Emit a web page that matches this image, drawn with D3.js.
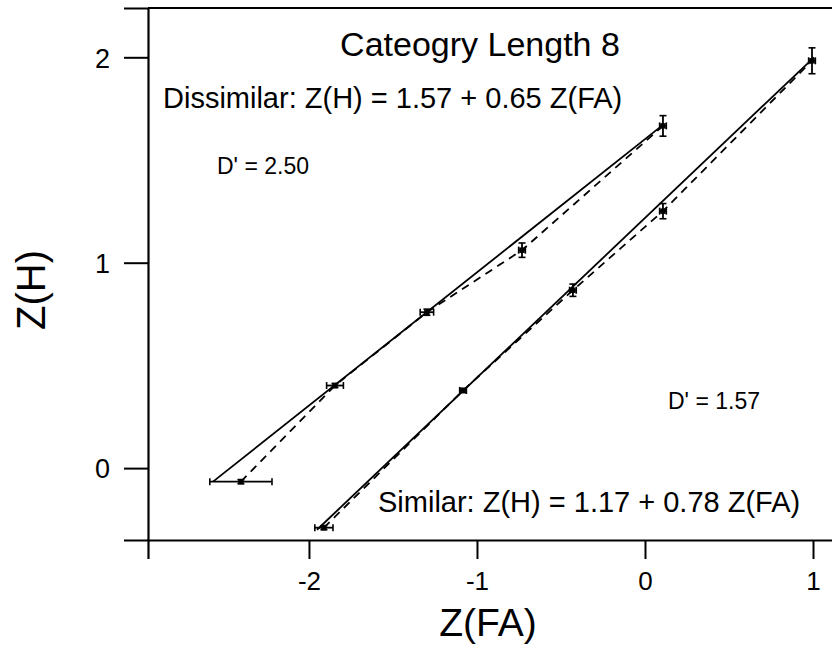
<!DOCTYPE html>
<html>
<head>
<meta charset="utf-8">
<script src="https://cdn.jsdelivr.net/npm/d3@7/dist/d3.min.js"></script>
<style>
  html, body { margin: 0; padding: 0; background: #fff; }
  svg { display: block; }
  text { font-family: "Liberation Sans", Arial, sans-serif; fill: #000; }
</style>
</head>
<body>
<svg id="chart" width="832" height="651"></svg>
<script>
// Z-transformed ROC points for the two conditions (category length 8)
const dissimilarFA  = [-2.405, -1.845, -1.298, -0.732, 0.107];
const dissimilarH   = [-0.066, 0.402, 0.759, 1.061, 1.666];
const dissimilarFAErr = [0.185, 0.05, 0.04, 0.02, 0.02];
const dissimilarHErr  = [0.01, 0.01, 0.015, 0.035, 0.05];

const similarFA  = [-1.911, -1.083, -0.429, 0.107, 0.994];
const similarH   = [-0.29, 0.378, 0.866, 1.251, 1.983];
const similarFAErr = [0.054, 0.02, 0.02, 0.02, 0.02];
const similarHErr  = [0.01, 0.01, 0.03, 0.037, 0.063];

// Straight-line ROC fits (end points along Z(FA))
const dissimilarFitFA = [-2.571, 0.107];
const dissimilarFitH  = [-0.066, 1.671];
const similarFitFA = [-1.952, 1.006];
const similarFitH  = [-0.30, 2.0];

const xTicks = [-2, -1, 0, 1];
const yTicks = [0, 1, 2];

const svg = d3.select("#chart");
const plotLeft = 148, plotRight = 833, plotTop = 8, plotBottom = 540;

const x = d3.scaleLinear().domain([-2.958, 1.119]).range([plotLeft, plotRight]);
const y = d3.scaleLinear().domain([-0.35, 2.24]).range([plotBottom, plotTop]);

// frame: top edge
svg.append("line")
  .attr("x1", plotLeft).attr("x2", plotRight).attr("y1", plotTop).attr("y2", plotTop)
  .attr("stroke", "#000").attr("stroke-width", 2);

// axes
const yAxis = d3.axisLeft(y).tickValues(yTicks).tickSize(24).tickPadding(14)
  .tickFormat(d3.format("d"));
const gy = svg.append("g").attr("transform", `translate(${plotLeft},0)`).call(yAxis);
gy.select(".domain").attr("stroke-width", 2.2);
gy.selectAll(".tick line").attr("stroke-width", 2);
gy.selectAll(".tick text").style("font-size", "27px").attr("dy", "0.36em");

const xAxis = d3.axisBottom(x).tickValues(xTicks).tickSize(19).tickPadding(12)
  .tickFormat(d => d3.format("d")(d).replace("−", "-"));
const gx = svg.append("g").attr("transform", `translate(0,${plotBottom})`).call(xAxis);
gx.select(".domain").attr("stroke-width", 2.2);
gx.selectAll(".tick line").attr("stroke-width", 2);
gx.selectAll(".tick text").style("font-size", "26px").attr("dy", "0.72em");

// axis titles
svg.append("text").attr("x", 488).attr("y", 636).attr("text-anchor", "middle")
  .style("font-size", "39px").text("Z(FA)");
svg.append("text").attr("transform", "translate(45,290) rotate(-90)")
  .attr("text-anchor", "middle").style("font-size", "40px").text("Z(H)");

const line = d3.line().x(d => x(d[0])).y(d => y(d[1]));

function drawSeries(fa, h, faErr, hErr, fitFA, fitH) {
  const g = svg.append("g");
  // fitted line
  g.append("path").datum(d3.zip(fitFA, fitH)).attr("d", line)
    .attr("fill", "none").attr("stroke", "#000").attr("stroke-width", 1.8);
  // observed points joined by dashes
  g.append("path").datum(d3.zip(fa, h)).attr("d", line)
    .attr("fill", "none").attr("stroke", "#000").attr("stroke-width", 1.8)
    .attr("stroke-dasharray", "8,6");
  const pts = fa.map((v, i) => ({ fa: v, h: h[i], ex: faErr[i], ey: hErr[i] }));
  const cap = 3.5;
  pts.forEach(p => {
    const cx = x(p.fa), cy = y(p.h);
    const x0 = x(p.fa - p.ex), x1 = x(p.fa + p.ex);
    const y0 = y(p.h - p.ey), y1 = y(p.h + p.ey);
    // horizontal error bar
    g.append("line").attr("x1", x0).attr("x2", x1).attr("y1", cy).attr("y2", cy)
      .attr("stroke", "#000").attr("stroke-width", 1.8);
    [x0, x1].forEach(xx => g.append("line").attr("x1", xx).attr("x2", xx)
      .attr("y1", cy - cap).attr("y2", cy + cap).attr("stroke", "#000").attr("stroke-width", 1.6));
    // vertical error bar
    g.append("line").attr("x1", cx).attr("x2", cx).attr("y1", y0).attr("y2", y1)
      .attr("stroke", "#000").attr("stroke-width", 1.8);
    [y0, y1].forEach(yy => g.append("line").attr("x1", cx - cap).attr("x2", cx + cap)
      .attr("y1", yy).attr("y2", yy).attr("stroke", "#000").attr("stroke-width", 1.6));
  });
  g.selectAll("path.pt").data(pts).join("path").attr("class", "pt")
    .attr("transform", d => `translate(${x(d.fa)},${y(d.h)})`)
    .attr("d", d3.symbol(d3.symbolSquare, 30)).attr("fill", "#000");
}

drawSeries(dissimilarFA, dissimilarH, dissimilarFAErr, dissimilarHErr, dissimilarFitFA, dissimilarFitH);
drawSeries(similarFA, similarH, similarFAErr, similarHErr, similarFitFA, similarFitH);

// annotations
svg.append("text").attr("x", 480).attr("y", 56).attr("text-anchor", "middle")
  .style("font-size", "34px").text("Cateogry Length 8");
svg.append("text").attr("x", 163).attr("y", 108)
  .style("font-size", "29px").text("Dissimilar: Z(H) = 1.57 + 0.65 Z(FA)");
svg.append("text").attr("x", 217).attr("y", 174)
  .style("font-size", "23px").text("D' = 2.50");
svg.append("text").attr("x", 668).attr("y", 409)
  .style("font-size", "23px").text("D' = 1.57");
svg.append("text").attr("x", 378).attr("y", 512)
  .style("font-size", "29px").text("Similar: Z(H) = 1.17 + 0.78 Z(FA)");
</script>
</body>
</html>
